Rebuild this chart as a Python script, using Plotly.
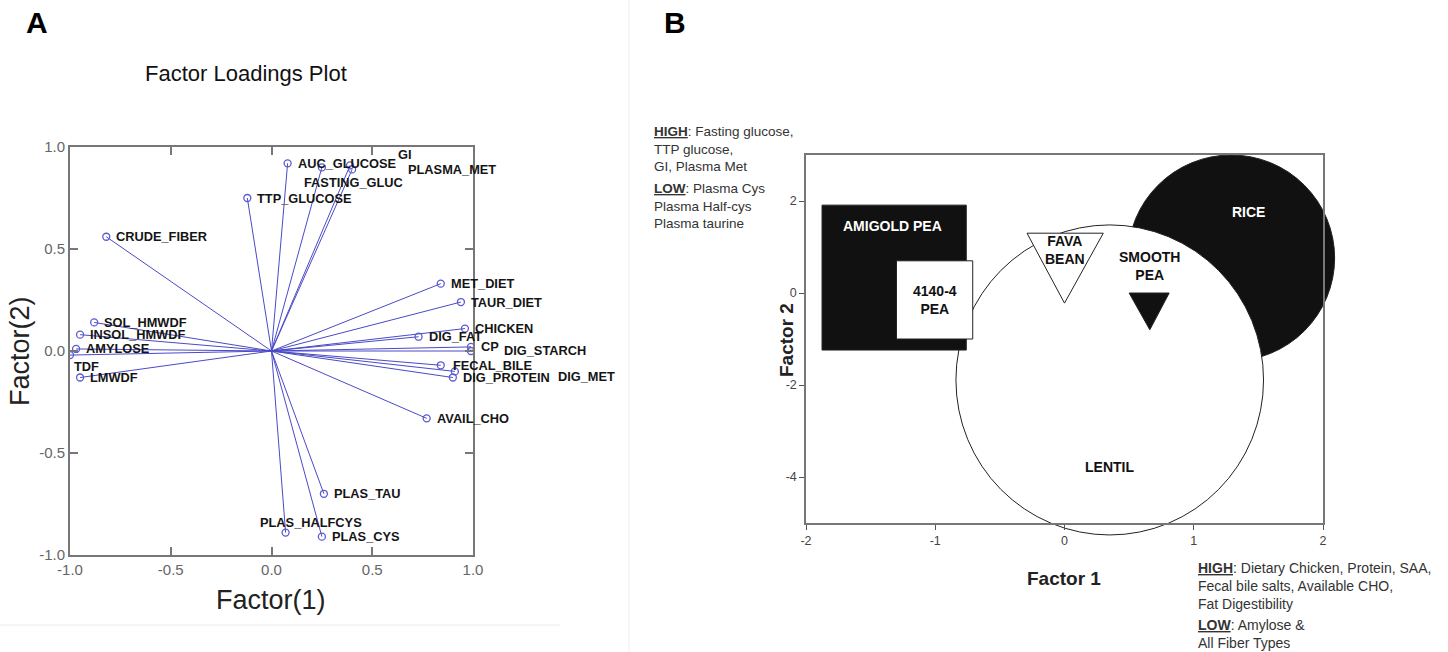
import plotly.graph_objects as go

W, H = 1448, 652
FONT = "Liberation Sans, Arial, sans-serif"

# ---------------- Panel A: factor loadings ----------------
variables = ["CRUDE_FIBER", "TTP_GLUCOSE", "AUC_GLUCOSE", "FASTING_GLUC", "GI", "PLASMA_MET",
             "MET_DIET", "TAUR_DIET", "CHICKEN", "DIG_FAT", "CP", "DIG_STARCH", "FECAL_BILE",
             "DIG_MET", "DIG_PROTEIN", "AVAIL_CHO", "SOL_HMWDF", "INSOL_HMWDF", "AMYLOSE", "TDF",
             "LMWDF", "PLAS_TAU", "PLAS_HALFCYS", "PLAS_CYS"]
factor1 = [-0.82, -0.12, 0.08, 0.25, 0.39, 0.40,
           0.84, 0.94, 0.96, 0.73, 0.99, 0.99, 0.84,
           0.91, 0.90, 0.77, -0.88, -0.95, -0.97, -1.00,
           -0.95, 0.26, 0.07, 0.25]
factor2 = [0.56, 0.75, 0.92, 0.90, 0.91, 0.89,
           0.33, 0.24, 0.11, 0.07, 0.02, 0.00, -0.07,
           -0.10, -0.13, -0.33, 0.14, 0.08, 0.01, -0.02,
           -0.13, -0.70, -0.89, -0.91]
axisA_ticks = [-1.0, -0.5, 0.0, 0.5, 1.0]
axisA_ticktext = ["-1.0", "-0.5", "0.0", "0.5", "1.0"]

# label placement offsets (pixels) relative to each loading point
label_offsets = {"FASTING_GLUC": (-20, -15), "GI": (46, 11), "PLASMA_MET": (54, 0),
                 "DIG_STARCH": (31, 1), "DIG_MET": (101, -5), "FECAL_BILE": (10, 0),
                 "TDF": (2, -11), "PLAS_HALFCYS": (-28, 10)}

# ---------------- Panel B: factor scores regions ----------------
rect_names = ["AMIGOLD PEA", "4140-4 PEA"]
rect_x0 = [-1.876, -1.30]
rect_x1 = [-0.76, -0.71]
rect_y0 = [-1.24, -1.00]
rect_y1 = [1.91, 0.70]

tri_names = ["FAVA BEAN", "SMOOTH PEA"]
tri_x = [[-0.29, 0.30, 0.00], [0.50, 0.81, 0.66]]
tri_y = [[1.30, 1.30, -0.22], [0.00, 0.00, -0.80]]

circ_names = ["RICE", "LENTIL"]
circ_cx = [1.29, 0.35]
circ_cy = [0.76, -1.89]
circ_rx = [0.80, 1.19]
circ_ry = [2.24, 3.37]

axisB_xticks = [-2, -1, 0, 1, 2]
axisB_yticks = [-4, -2, 0, 2]
XB = [-2, 2]
YB = [-5, 3]


def dom_x(a, b):
    return [a / W, b / W]


def dom_y(top, bottom):
    return [1 - bottom / H, 1 - top / H]


fig = go.Figure()

# loading vectors
lx, ly = [], []
for a, b in zip(factor1, factor2):
    lx += [0, a, None]
    ly += [0, b, None]
fig.add_trace(go.Scatter(x=lx, y=ly, mode="lines", xaxis="x", yaxis="y",
                         line=dict(color="#4a4ac8", width=1), hoverinfo="skip", showlegend=False))
fig.add_trace(go.Scatter(x=factor1, y=factor2, mode="markers", xaxis="x", yaxis="y",
                         marker=dict(symbol="circle-open", size=7, color="#5a5ad2",
                                     line=dict(width=1.3, color="#5a5ad2")),
                         text=variables, hoverinfo="text", showlegend=False))

annotations = []
for name, a, b in zip(variables, factor1, factor2):
    dx, dy = label_offsets.get(name, (8, 0))
    annotations.append(dict(x=a, y=b, xref="x", yref="y", text="<b>%s</b>" % name,
                            showarrow=False, xanchor="left", yanchor="middle",
                            xshift=dx, yshift=dy,
                            font=dict(family=FONT, size=12.8, color="#151515")))

# Panel B shapes: circles (unclipped, domain refs) then rectangles and triangles
shapes = []
circ_fill = ["#111111", "white"]
fx = lambda v: (v - XB[0]) / (XB[1] - XB[0])
fy = lambda v: (v - YB[0]) / (YB[1] - YB[0])
for cx, cy, rx, ry, fc in zip(circ_cx, circ_cy, circ_rx, circ_ry, circ_fill):
    shapes.append(dict(type="circle", xref="x2 domain", yref="y2 domain",
                       x0=fx(cx - rx), x1=fx(cx + rx), y0=fy(cy - ry), y1=fy(cy + ry),
                       fillcolor=fc, line=dict(color="#222", width=1), layer="below"))
rect_fill = ["#111111", "white"]
for x0, x1, y0, y1, fc in zip(rect_x0, rect_x1, rect_y0, rect_y1, rect_fill):
    shapes.append(dict(type="rect", xref="x2", yref="y2", x0=x0, x1=x1, y0=y0, y1=y1,
                       fillcolor=fc, line=dict(color="#222", width=1), layer="below"))
tri_fill = ["white", "#111111"]
for xs, ys, fc in zip(tri_x, tri_y, tri_fill):
    path = "M %g %g L %g %g L %g %g Z" % (xs[0], ys[0], xs[1], ys[1], xs[2], ys[2])
    shapes.append(dict(type="path", xref="x2", yref="y2", path=path,
                       fillcolor=fc, line=dict(color="#222", width=1), layer="below"))

# Panel B region labels
b_labels = [("AMIGOLD PEA", -1.33, 1.46, "white"),
            ("4140-4<br>PEA", -1.00, -0.15, "#111"),
            ("FAVA<br>BEAN", 0.00, 0.93, "#111"),
            ("SMOOTH<br>PEA", 0.66, 0.59, "#111"),
            ("RICE", 1.42, 1.76, "white"),
            ("LENTIL", 0.35, -3.78, "#111")]
for t, x, y, c in b_labels:
    annotations.append(dict(x=x, y=y, xref="x2", yref="y2", text="<b>%s</b>" % t,
                            showarrow=False, xanchor="center", yanchor="middle",
                            font=dict(family=FONT, size=14, color=c)))

# Text blocks, titles and panel letters (paper coordinates)
def pap(px, py):
    return px / W, 1 - py / H

def add_text(text, px, py, size, xanchor="left", yanchor="top", color="#333", angle=0):
    x, y = pap(px, py)
    annotations.append(dict(x=x, y=y, xref="paper", yref="paper", text=text, showarrow=False,
                            xanchor=xanchor, yanchor=yanchor, align="left", textangle=angle,
                            font=dict(family=FONT, size=size, color=color)))

add_text("<b>A</b>", 37, 22, 30, "center", "middle", "#000")
add_text("<b>B</b>", 675, 22, 30, "center", "middle", "#000")
add_text("Factor Loadings Plot", 246, 73, 22, "center", "middle", "#111")
add_text("Factor(1)", 271, 600, 27, "center", "middle", "#222")
add_text("Factor(2)", 20, 351, 27, "center", "middle", "#222", -90)
add_text("<b>Factor 1</b>", 1064, 578, 19, "center", "middle", "#222")
add_text("<b>Factor 2</b>", 786, 340, 19, "center", "middle", "#222", -90)
add_text("<b><u>HIGH</u></b>: Fasting glucose,<br>TTP glucose,<br>GI, Plasma Met",
         652, 122, 13.5)
add_text("<b><u>LOW</u></b>: Plasma Cys<br>Plasma Half-cys<br>Plasma taurine",
         652, 179, 13.5)
add_text("<b><u>HIGH</u></b>: Dietary Chicken, Protein, SAA,<br>Fecal bile salts, Available CHO,<br>Fat Digestibility",
         1196, 558, 14)
add_text("<b><u>LOW</u></b>: Amylose &<br>All Fiber Types", 1196, 615, 14)

# faint panel separators
shapes.append(dict(type="line", xref="paper", yref="paper", x0=0, x1=560 / W,
                   y0=1 - 625 / H, y1=1 - 625 / H, line=dict(color="#ececec", width=1)))
shapes.append(dict(type="line", xref="paper", yref="paper", x0=629 / W, x1=629 / W,
                   y0=0, y1=1, line=dict(color="#efefef", width=1)))

axA = dict(showgrid=False, zeroline=False, showline=True, linecolor="#777", linewidth=2,
           mirror="ticks", ticks="inside", ticklen=8, tickwidth=1.5, tickcolor="#777",
           tickfont=dict(family=FONT, size=15, color="#666"), automargin=False)
axB = dict(showgrid=False, zeroline=False, showline=True, linecolor="#777", linewidth=1.5,
           mirror=True, ticks="outside", ticklen=5, tickwidth=1, tickcolor="#555",
           tickfont=dict(family=FONT, size=12.5, color="#444"), automargin=False)

fig.update_layout(
    width=W, height=H, margin=dict(l=0, r=0, t=0, b=0),
    paper_bgcolor="white", plot_bgcolor="rgba(0,0,0,0)", showlegend=False,
    xaxis=dict(axA, domain=dom_x(70, 473), range=[-1, 1], anchor="y",
               tickvals=axisA_ticks, ticktext=axisA_ticktext),
    yaxis=dict(axA, domain=dom_y(147, 555), range=[-1, 1], anchor="x",
               tickvals=axisA_ticks, ticktext=axisA_ticktext),
    xaxis2=dict(axB, domain=dom_x(806, 1323), range=XB, anchor="y2",
                tickvals=axisB_xticks, ticktext=[str(v) for v in axisB_xticks]),
    yaxis2=dict(axB, domain=dom_y(155, 523), range=YB, anchor="x2",
                tickvals=axisB_yticks, ticktext=[str(v) for v in axisB_yticks]),
    shapes=shapes, annotations=annotations,
)

fig.write_html("out.html", config={"displayModeBar": False},
               post_script="document.body.style.margin='0';document.body.style.overflow='hidden';")
